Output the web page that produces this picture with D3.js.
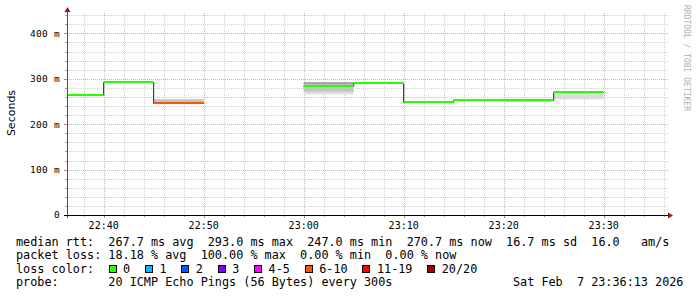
<!DOCTYPE html>
<html>
<head>
<meta charset="utf-8">
<script src="https://cdn.jsdelivr.net/npm/d3@7"></script>
<style>
  body { margin: 0; background: #fff; }
  svg { display: block; }
  text { font-family: "DejaVu Sans Mono", monospace; }
</style>
</head>
<body>
<svg width="697" height="297"></svg>
<script>
// 5 minute bins (start time), median rtt in ms, lost pings out of 20
var binStart = ["22:35", "22:40", "22:45", "22:50", "22:55", "23:00", "23:05", "23:10", "23:15", "23:20", "23:25"];
var median   = [265, 293, 247, null, null, 284, 291, 249, 254, 254, 270];
var lostPings = [0, 0, 8, 20, 20, 0, 0, 0, 0, 0, 0];
// smoke (spread of the 20 pings)
var smokeMin = [265, 293, 247, null, null, 266, 291, 249, 254, 249, 255];
var smokeQ1  = [265, 293, 247, null, null, 272, 291, 249, 254, 254, 270];
var smokeQ3  = [265, 293, 255, null, null, 289, 291, 249, 254, 254, 270];
var smokeMax = [265, 293, 255, null, null, 292, 291, 249, 254, 254, 270];

var lossLabels = ["0", "1", "2", "3", "4-5", "6-10", "11-19", "20/20"];
var lossUpper  = [0, 1, 2, 3, 5, 10, 19, 20];
var lossColors = ["#26ff00", "#00b8ff", "#0059ff", "#7e00ff", "#ff00ff", "#ff5500", "#ff0000", "#a10000"];

var statLines = [
  "median rtt:  267.7 ms avg  293.0 ms max  247.0 ms min  270.7 ms now  16.7 ms sd  16.0   am/s",
  "packet loss: 18.18 % avg  100.00 % max  0.00 % min  0.00 % now",
  "loss color:",
  "probe:       20 ICMP Echo Pings (56 Bytes) every 300s"
];
var dateStamp = "Sat Feb  7 23:36:13 2026";

var svg = d3.select("svg");
var parse = d3.timeParse("%Y-%m-%d %H:%M:%S");
var day = "2026-02-07 ";
function t(hm) { return parse(day + hm + ":00"); }

var pLeft = 67, pRight = 667, pTop = 13, pBottom = 215;

var x = d3.scaleTime()
  .domain([parse(day + "22:36:20"), parse(day + "23:36:20")])
  .range([pLeft, pRight]);
var y = d3.scaleLinear().domain([0, 400]).range([pBottom, 33.4]);
var yMax = y.invert(pTop);

svg.append("defs").append("clipPath").attr("id", "plot")
  .append("rect").attr("x", pLeft).attr("y", pTop)
  .attr("width", pRight - pLeft).attr("height", pBottom - pTop);

// grid
var grid = svg.append("g").attr("shape-rendering", "crispEdges");
var minorX = d3.timeMinute.every(2).range(x.domain()[0], x.domain()[1]);
minorX.forEach(function (d) {
  var major = d.getMinutes() % 10 === 0;
  var xx = Math.round(x(d)) + 0.5;
  grid.append("line")
    .attr("x1", xx).attr("x2", xx).attr("y1", pTop).attr("y2", pBottom)
    .attr("stroke", major ? "#e2aaaa" : "#cfcfcf")
    .attr("stroke-dasharray", "1,1");
  grid.append("line")
    .attr("x1", xx).attr("x2", xx).attr("y1", pBottom).attr("y2", pBottom + (major ? 3 : 2))
    .attr("stroke", major ? "#c08080" : "#999");
});
d3.range(20, yMax, 20).forEach(function (v) {
  var major = v % 100 === 0;
  var yy = Math.round(y(v)) + 0.5;
  grid.append("line")
    .attr("x1", pLeft).attr("x2", pRight + 1).attr("y1", yy).attr("y2", yy)
    .attr("stroke", major ? "#e2aaaa" : "#cfcfcf")
    .attr("stroke-dasharray", "1,1");
  grid.append("line")
    .attr("x1", pLeft - (major ? 3 : 2)).attr("x2", pLeft).attr("y1", yy).attr("y2", yy)
    .attr("stroke", major ? "#c08080" : "#999");
});

// smoke
var plot = svg.append("g").attr("clip-path", "url(#plot)");
var bins = binStart.map(function (s, i) {
  var t0 = t(s);
  return {
    t0: t0, t1: d3.timeMinute.offset(t0, 5), med: median[i], lost: lostPings[i],
    min: smokeMin[i], q1: smokeQ1[i], q3: smokeQ3[i], max: smokeMax[i]
  };
});
function band(lo, hi, fill) {
  plot.selectAll(null).data(bins.filter(function (d) { return d[lo] != null && d[hi] > d[lo]; }))
    .enter().append("rect")
    .attr("x", function (d) { return x(d.t0); })
    .attr("width", function (d) { return x(d.t1) - x(d.t0); })
    .attr("y", function (d) { return y(d[hi]); })
    .attr("height", function (d) { return y(d[lo]) - y(d[hi]); })
    .attr("fill", fill);
}
band("min", "max", "#dcdcdc");
band("q1", "q3", "#c4c4c4");
band("q3", "max", "#8c8c8c");

// dark median step line
var pts = [];
bins.forEach(function (d) {
  pts.push({ t: d.t0, v: d.med });
  pts.push({ t: d.t1, v: d.med });
});
var line = d3.line()
  .defined(function (d) { return d.v != null; })
  .x(function (d) { return x(d.t); })
  .y(function (d) { return Math.round(y(d.v)) + 0.5; });
plot.append("path").datum(pts)
  .attr("d", line).attr("fill", "none").attr("stroke", "#202020").attr("stroke-width", 1);

// loss coloured median
function lossColor(n) {
  for (var i = 0; i < lossUpper.length; i++) if (n <= lossUpper[i]) return lossColors[i];
  return lossColors[lossColors.length - 1];
}
plot.selectAll(null).data(bins.filter(function (d) { return d.med != null; }))
  .enter().append("line")
  .attr("x1", function (d) { return x(d.t0); })
  .attr("x2", function (d) { return x(d.t1); })
  .attr("y1", function (d) { return Math.round(y(d.med)); })
  .attr("y2", function (d) { return Math.round(y(d.med)); })
  .attr("stroke", function (d) { return lossColor(d.lost); })
  .attr("stroke-width", 2);

// axes
var axes = svg.append("g").attr("shape-rendering", "crispEdges");
axes.append("line").attr("x1", pLeft + 0.5).attr("x2", pLeft + 0.5).attr("y1", pBottom + 3).attr("y2", 10)
  .attr("stroke", "#505050");
axes.append("line").attr("x1", pLeft - 3).attr("x2", 669).attr("y1", pBottom + 0.5).attr("y2", pBottom + 0.5)
  .attr("stroke", "#000");
svg.append("path").attr("d", "M64.5,12 L67.5,7 L70.5,12 Z").attr("fill", "#8b1a1a");
svg.append("path").attr("d", "M668,212.5 L673,215.5 L668,218.5 Z").attr("fill", "#8b1a1a");

// tick labels
d3.range(0, yMax, 100).forEach(function (v) {
  svg.append("text")
    .attr("x", 60).attr("y", y(v) + 3.4)
    .attr("text-anchor", "end")
    .style("font-size", "9.5px").style("letter-spacing", "0.3px")
    .text(v === 0 ? "0" : v + " m");
});
d3.timeMinute.every(10).range(x.domain()[0], x.domain()[1]).forEach(function (d) {
  svg.append("text")
    .attr("x", x(d)).attr("y", 228.5)
    .attr("text-anchor", "middle")
    .style("font-size", "10px")
    .text(d3.timeFormat("%H:%M")(d));
});

svg.append("text")
  .attr("transform", "translate(14.5,113) rotate(-90)")
  .attr("text-anchor", "middle")
  .style("font-family", "'DejaVu Sans', sans-serif").style("font-size", "11px")
  .text("Seconds");

svg.append("text")
  .attr("transform", "translate(684,5) rotate(90)")
  .style("font-size", "8px").attr("fill", "#b0b0b0")
  .text("RRDTOOL / TOBI OETIKER");

// legend
var charW = 7.105;
var baselines = [245.5, 259, 272.5, 286];
statLines.forEach(function (s, i) {
  svg.append("text")
    .attr("x", 16).attr("y", baselines[i])
    .attr("xml:space", "preserve").style("white-space", "pre")
    .style("font-size", "11.8px")
    .text(s);
});
svg.append("text")
  .attr("x", 513).attr("y", baselines[3])
  .attr("xml:space", "preserve").style("white-space", "pre")
  .style("font-size", "11.8px")
  .text(dateStamp);

var lx = 108.5;
lossLabels.forEach(function (lab, i) {
  svg.append("rect")
    .attr("x", lx + 0.5).attr("y", 265.5).attr("width", 7).attr("height", 7)
    .attr("fill", lossColors[i]).attr("stroke", "#000").attr("stroke-width", 1)
    .attr("shape-rendering", "crispEdges");
  svg.append("text")
    .attr("x", lx + 14.5).attr("y", baselines[2])
    .style("font-size", "11.8px")
    .text(lab);
  lx += 14.5 + lab.length * charW + 14.8;
});
</script>
</body>
</html>
